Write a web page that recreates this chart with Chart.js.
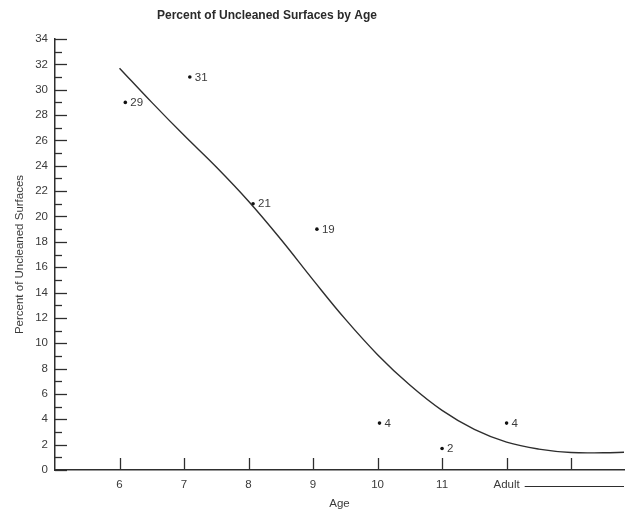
<!DOCTYPE html>
<html>
<head>
<meta charset="utf-8">
<script src="https://cdn.jsdelivr.net/npm/chart.js@4.4.1/dist/chart.umd.min.js"></script>
<style>
  html, body { margin: 0; padding: 0; background: #fff; }
  canvas { display: block; }
</style>
</head>
<body>
<canvas id="chart" width="628" height="511"></canvas>
<script>
// observed points (age position, percent) and the labels printed beside them
const ages = [6.09, 7.09, 8.07, 9.06, 10.03, 11, 12]
const percents = [29, 31, 21, 19, 3.7, 1.7, 3.7]
const pointLabels = ['29', '31', '21', '19', '4', '2', '4']

// fitted curve
const curveAges = [6, 6.5, 7, 7.5, 8, 8.5, 9, 9.5, 10, 10.5, 11, 11.5, 12, 12.5, 13, 13.5, 13.85]
const curvePercents = [31.7, 29.0, 26.4, 23.9, 21.2, 18.2, 15.0, 11.9, 9.1, 6.7, 4.7, 3.2, 2.2, 1.65, 1.38, 1.36, 1.4]

const xTickValues = [6, 7, 8, 9, 10, 11, 12, 13]
const xTickLabels = ['6', '7', '8', '9', '10', '11', 'Adult', '']

const titleText = 'Percent of Uncleaned Surfaces by Age'
const ink = '#2e2e2e'
const textColor = '#3a3a3a'
const family = '"Liberation Sans", Arial, Helvetica, sans-serif'

// tick marks point inward, plus the title, point labels and the "Adult ----" rule
const decorPlugin = {
  id: 'decor',
  afterDraw(chart) {
    const { ctx, scales: { x, y } } = chart
    ctx.save()
    ctx.strokeStyle = ink
    ctx.lineWidth = 1.3

    y.ticks.forEach(t => {
      const py = Math.round(y.getPixelForValue(t.value)) + 0.5
      const len = t.value % 2 === 0 ? 12 : 7
      ctx.beginPath()
      ctx.moveTo(y.right, py)
      ctx.lineTo(y.right + len, py)
      ctx.stroke()
    })

    x.ticks.forEach(t => {
      const px = Math.round(x.getPixelForValue(t.value)) + 0.5
      ctx.beginPath()
      ctx.moveTo(px, x.top)
      ctx.lineTo(px, x.top - 12)
      ctx.stroke()
    })

    // line running on from the "Adult" label
    ctx.font = '11.5px ' + family
    const i = xTickLabels.indexOf('Adult')
    const w = ctx.measureText('Adult').width
    const startX = x.getPixelForValue(xTickValues[i]) + w / 2 + 5
    ctx.lineWidth = 1
    ctx.beginPath()
    ctx.moveTo(startX, x.top + 16.5)
    ctx.lineTo(x.right, x.top + 16.5)
    ctx.stroke()

    // labels beside the points
    ctx.fillStyle = textColor
    ctx.textAlign = 'left'
    ctx.textBaseline = 'middle'
    const meta = chart.getDatasetMeta(1)
    meta.data.forEach((pt, k) => {
      ctx.fillText(pointLabels[k], pt.x + 5, pt.y + 0.5)
    })

    // title
    ctx.font = 'bold 12px ' + family
    ctx.textAlign = 'center'
    ctx.fillStyle = '#2a2a2a'
    ctx.fillText(titleText, 267, 16)
    ctx.restore()
  }
}

new Chart(document.getElementById('chart'), {
  data: {
    datasets: [
      {
        type: 'line',
        data: curveAges.map((a, k) => ({ x: a, y: curvePercents[k] })),
        borderColor: ink,
        borderWidth: 1.4,
        pointRadius: 0,
        tension: 0.4,
        fill: false
      },
      {
        type: 'scatter',
        data: ages.map((a, k) => ({ x: a, y: percents[k] })),
        backgroundColor: '#111',
        borderColor: '#111',
        pointRadius: 1.8,
        borderWidth: 0
      }
    ]
  },
  options: {
    responsive: false,
    animation: false,
    layout: { padding: { top: 39, right: 0, left: 0, bottom: 0 } },
    plugins: {
      legend: { display: false },
      tooltip: { enabled: false },
      title: { display: false }
    },
    scales: {
      x: {
        type: 'linear',
        min: 5,
        max: 13.82,
        afterBuildTicks: scale => {
          scale.ticks = xTickValues.map(v => ({ value: v }))
        },
        afterFit: scale => { scale.height = 41 },
        ticks: {
          autoSkip: false,
          maxRotation: 0,
          padding: 8,
          color: textColor,
          font: { family: family, size: 11.5 },
          callback: (value, index) => xTickLabels[index]
        },
        grid: { display: true, drawOnChartArea: false, drawTicks: false },
        border: { display: true, color: ink, width: 1.5 },
        title: {
          display: true,
          text: 'Age',
          color: textColor,
          font: { family: family, size: 11.5 },
          padding: { top: 0, bottom: 0 }
        }
      },
      y: {
        min: 0,
        max: 34,
        afterFit: scale => { scale.width = 55 },
        ticks: {
          stepSize: 1,
          autoSkip: false,
          padding: 7,
          color: textColor,
          font: { family: family, size: 11.5 },
          callback: v => (v % 2 === 0 ? v : '')
        },
        grid: { display: true, drawOnChartArea: false, drawTicks: false },
        border: { display: true, color: ink, width: 1.5 },
        title: {
          display: true,
          text: 'Percent of Uncleaned Surfaces',
          color: textColor,
          font: { family: family, size: 11.5 },
          padding: { top: 13, bottom: 0 }
        }
      }
    }
  },
  plugins: [decorPlugin]
})
</script>
</body>
</html>
